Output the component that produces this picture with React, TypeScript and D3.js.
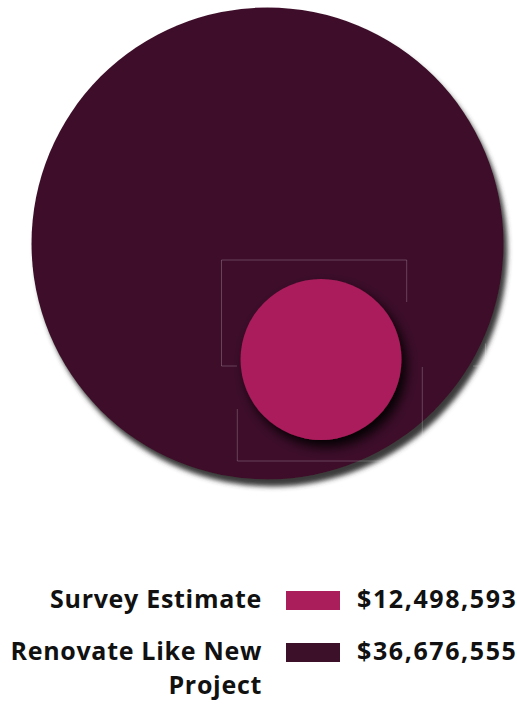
import React from "react";
import * as d3 from "d3";

const categories = ["Survey Estimate", "Renovate Like New Project"];
const values = [12498593, 36676555];
const colors = ["#ab1e5c", "#3d1029"];
const labelLines = [["Survey Estimate"], ["Renovate Like New", "Project"]];

const W = 517;
const H = 705;

export default function App() {
  const rScale = d3.scaleLinear().domain([0, d3.max(values) as number]).range([0, 236]);
  const fmt = d3.format("$,.0f");
  const big = { cx: 267.5, cy: 243.5 };
  const small = { cx: 321, cy: 359.5 };
  const rBig = rScale(values[1]);
  const rSmall = rScale(values[0]);
  const font = "'Open Sans', sans-serif";
  const rowY = [608, 660];
  const guide = "rgba(255,255,255,0.22)";
  const sx = small.cx, sy = small.cy;
  const guidePath = [
    `M${sx - 99.5},${sy - 99.5} H${sx + 85.7} V${sy - 57.5}`,
    `M${sx - 99.5},${sy - 99.5} V${sy + 6.5} H${sx - 84}`,
    `M${sx + 152},${sy + 6.5} H${sx + 164.5} V${sy - 16}`,
    `M${sx - 83.7},${sy + 49.5} V${sy + 101.5} H${sx + 101.3} V${sy + 7.5}`,
  ].join(" ");
  return (
    <svg width={W} height={H} style={{ position: "absolute", left: 0, top: 0, background: "#fff" }}>
      <defs>
        <filter id="bigShadow" x="-10%" y="-10%" width="125%" height="125%">
          <feDropShadow dx="4" dy="7" stdDeviation="2.5" floodColor="#3a3a3a" floodOpacity="1" />
        </filter>
        <filter id="smallShadow" x="-30%" y="-30%" width="170%" height="170%">
          <feDropShadow dx="5" dy="7" stdDeviation="6" floodColor="#000" floodOpacity="0.95" />
        </filter>
      </defs>
      <circle cx={big.cx} cy={big.cy} r={rBig} fill={colors[1]} filter="url(#bigShadow)" />
      <path d={guidePath} fill="none" stroke={guide} strokeWidth={1} />
      <circle cx={small.cx} cy={small.cy} r={rSmall} fill={colors[0]} filter="url(#smallShadow)" />
      {categories.map((c, i) => (
        <g key={c}>
          <text
            x={262}
            y={rowY[i]}
            textAnchor="end"
            fontFamily={font}
            fontWeight={700}
            fontSize={25}
            letterSpacing={0.7}
            fill="#111"
          >
            {labelLines[i].map((l, j) => (
              <tspan key={j} x={262} dy={j === 0 ? 0 : 34}>
                {l}
              </tspan>
            ))}
          </text>
          <rect x={286} y={rowY[i] - 17} width={54} height={19} fill={colors[i]} />
          <text
            x={357}
            y={rowY[i]}
            fontFamily={font}
            fontWeight={700}
            fontSize={25}
            letterSpacing={1.6}
            fill="#111"
          >
            {fmt(values[i])}
          </text>
        </g>
      ))}
    </svg>
  );
}
